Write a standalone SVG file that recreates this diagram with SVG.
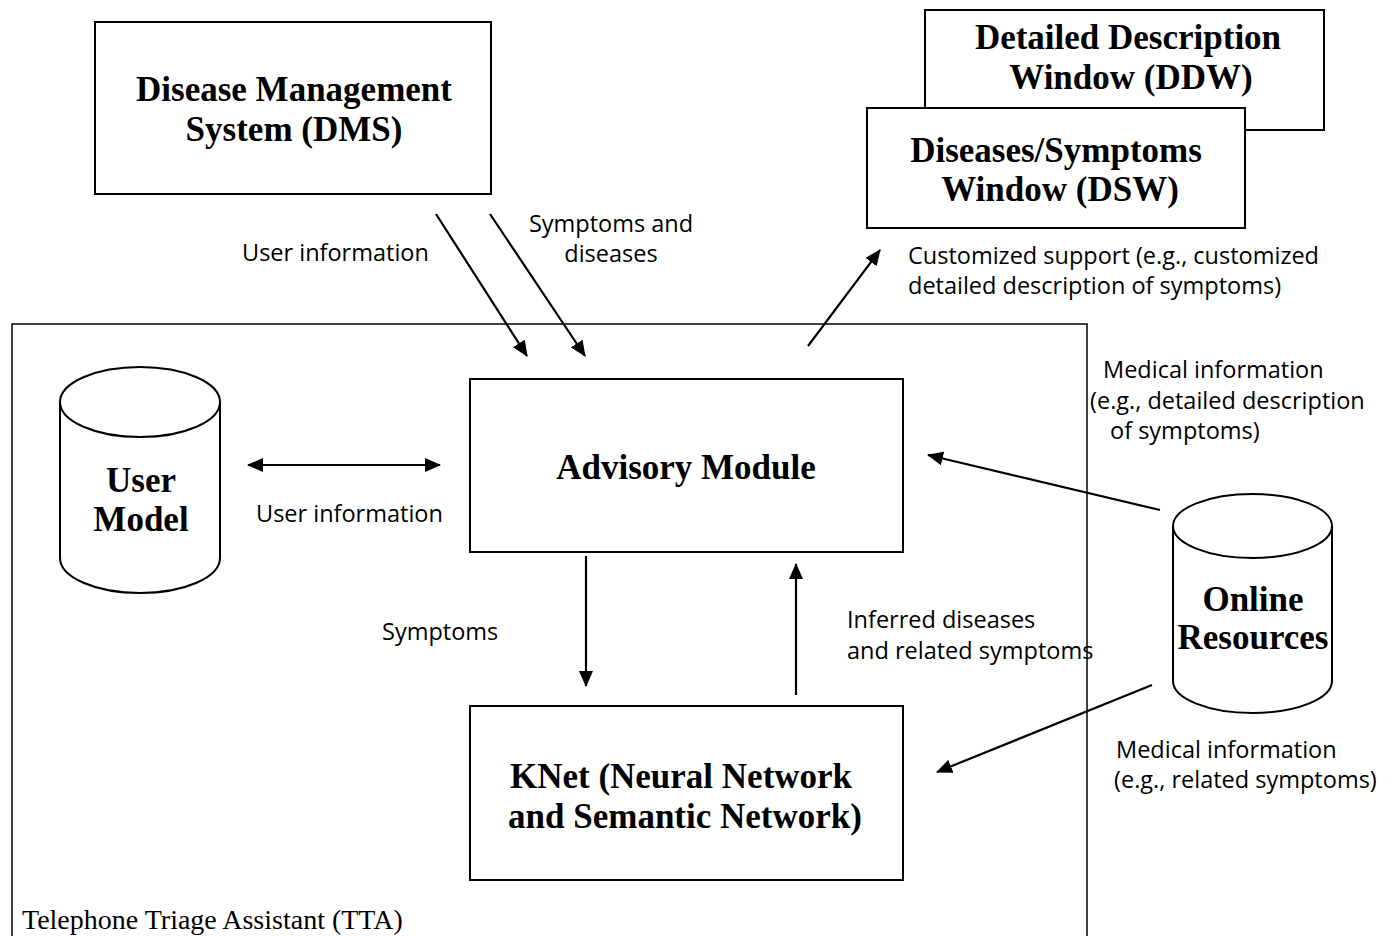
<svg xmlns="http://www.w3.org/2000/svg" width="1395" height="936" viewBox="0 0 1395 936">
  <style>
    .box { fill: #fff; stroke: #000; stroke-width: 2; }
    .frame { fill: none; stroke: #000; stroke-width: 1.5; }
    .title { font-family: "Liberation Serif", serif; font-weight: bold; font-size: 35px; text-anchor: middle; fill: #000; }
    .lbl { font-family: "Open Sans", "Liberation Sans", sans-serif; font-size: 23.5px; fill: #000; }
    .mid { text-anchor: middle; }
    .conn { stroke: #000; stroke-width: 2.2; fill: none; marker-end: url(#ah); }
    .conn2 { stroke: #000; stroke-width: 2.2; fill: none; marker-end: url(#ah); marker-start: url(#ahs); }
  </style>
  <defs>
    <marker id="ah" viewBox="0 0 16 14" refX="15" refY="7" markerWidth="16" markerHeight="14" markerUnits="userSpaceOnUse" orient="auto">
      <path d="M0,0 L16,7 L0,14 z" fill="#000"/>
    </marker>
    <marker id="ahs" viewBox="0 0 16 14" refX="1" refY="7" markerWidth="16" markerHeight="14" markerUnits="userSpaceOnUse" orient="auto">
      <path d="M16,0 L0,7 L16,14 z" fill="#000"/>
    </marker>
  </defs>
  <rect width="1395" height="936" fill="#fff"/>

  <!-- Telephone Triage Assistant container -->
  <g id="tta">
    <rect class="frame" x="12" y="324" width="1075" height="620"/>
    <text x="22" y="929" font-family="Liberation Serif, serif" font-size="28px">Telephone Triage Assistant (TTA)</text>
  </g>

  <g id="dms">
    <rect class="box" x="95" y="22" width="396" height="172"/>
    <text class="title" x="294" y="101">Disease Management</text>
    <text class="title" x="294" y="141">System (DMS)</text>
  </g>

  <g id="ddw">
    <rect class="box" x="925" y="10" width="399" height="120"/>
    <text class="title" x="1128" y="49">Detailed Description</text>
    <text class="title" x="1131" y="89">Window (DDW)</text>
  </g>

  <g id="dsw">
    <rect class="box" x="867" y="108" width="378" height="120"/>
    <text class="title" x="1056" y="162">Diseases/Symptoms</text>
    <text class="title" x="1060" y="201">Window (DSW)</text>
  </g>

  <g id="advisory">
    <rect class="box" x="470" y="379" width="433" height="173"/>
    <text class="title" x="686" y="479">Advisory Module</text>
  </g>

  <g id="knet">
    <rect class="box" x="470" y="706" width="433" height="174"/>
    <text class="title" x="681" y="788">KNet (Neural Network</text>
    <text class="title" x="685" y="828">and Semantic Network)</text>
  </g>

  <g id="user-model">
    <path class="box" d="M60,402 L60,558 A80,35 0 0 0 220,558 L220,402"/>
    <ellipse class="box" cx="140" cy="402" rx="80" ry="35"/>
    <text class="title" x="141" y="492">User</text>
    <text class="title" x="141" y="531">Model</text>
  </g>

  <g id="online-resources">
    <path class="box" d="M1173,526 L1173,681 A79.5,32 0 0 0 1332,681 L1332,526"/>
    <ellipse class="box" cx="1252.5" cy="526" rx="79.5" ry="32"/>
    <text class="title" x="1253" y="611">Online</text>
    <text class="title" x="1253" y="649">Resources</text>
  </g>

  <g id="connectors">
    <line class="conn" x1="436" y1="214" x2="527" y2="356"/>
    <line class="conn" x1="490" y1="214" x2="585" y2="356"/>
    <line class="conn" x1="808" y1="346" x2="880" y2="250"/>
    <line class="conn2" x1="248" y1="465" x2="440" y2="465"/>
    <line class="conn" x1="586" y1="556" x2="586" y2="686"/>
    <line class="conn" x1="796" y1="695" x2="796" y2="564"/>
    <line class="conn" x1="1160" y1="510" x2="928" y2="455"/>
    <line class="conn" x1="1152" y1="685" x2="937" y2="772"/>
  </g>

  <g id="labels">
    <text class="lbl" x="242" y="261">User information</text>
    <text class="lbl mid" x="611" y="232">Symptoms and</text>
    <text class="lbl mid" x="611" y="262">diseases</text>
    <text class="lbl" x="908" y="264">Customized support (e.g., customized</text>
    <text class="lbl" x="908" y="294">detailed description of symptoms)</text>
    <text class="lbl" x="1103" y="378">Medical information</text>
    <text class="lbl" x="1090" y="409">(e.g., detailed description</text>
    <text class="lbl" x="1110" y="439">of symptoms)</text>
    <text class="lbl" x="256" y="522">User information</text>
    <text class="lbl" x="382" y="640">Symptoms</text>
    <text class="lbl" x="847" y="628">Inferred diseases</text>
    <text class="lbl" x="847" y="659">and related symptoms</text>
    <text class="lbl" x="1116" y="758">Medical information</text>
    <text class="lbl" x="1114" y="788">(e.g., related symptoms)</text>
  </g>
</svg>
